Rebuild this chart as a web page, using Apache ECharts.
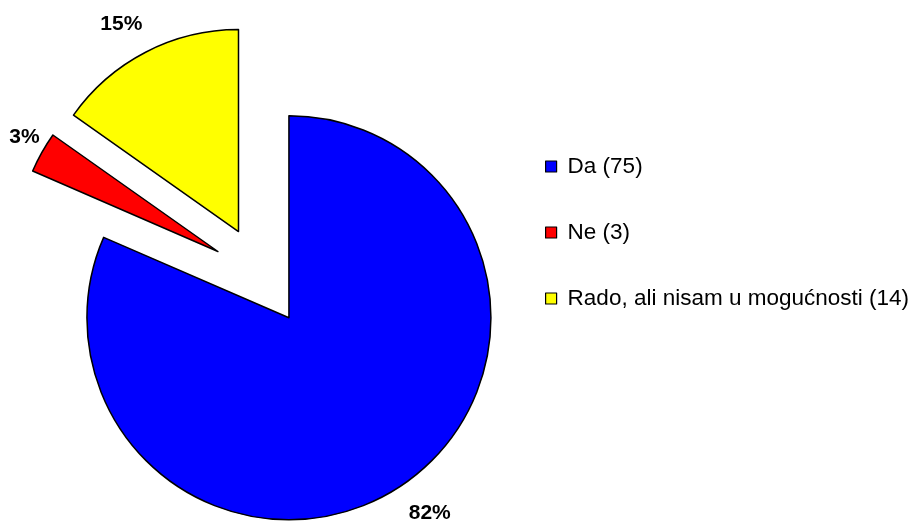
<!DOCTYPE html>
<html>
<head>
<meta charset="utf-8">
<script src="https://cdn.jsdelivr.net/npm/echarts@6/dist/echarts.min.js"></script>
<style>
html,body{margin:0;padding:0;background:#fff;}
#chart{width:916px;height:521px;}
</style>
</head>
<body>
<div id="chart"></div>
<script>
const categories = ['Da (75)', 'Ne (3)', 'Rado, ali nisam u mogućnosti (14)'];
const values = [75, 3, 14];
const colors = ['#0000FF', '#FF0000', '#FFFF00'];

const chart = echarts.init(document.getElementById('chart'), null, {renderer: 'canvas'});
const FONT = '"Liberation Sans", Arial, sans-serif';

// small per-label horizontal nudges via asymmetric padding (Excel places labels slightly off the mid-angle)
const labelPadding = {0: [0, 0, 0, 25], 1: [0, 0, 0, 21], 2: [0, 19, 0, 0]};

const pieData = categories.map((n, i) => ({
  name: n, value: values[i], selected: true,
  itemStyle: {color: colors[i]}
}));
const labelData = categories.map((n, i) => ({
  name: n, value: values[i], selected: true,
  label: {padding: labelPadding[i]}
}));

const common = {
  type: 'pie',
  center: [261.5, 276],
  startAngle: 90,
  clockwise: true,
  selectedMode: 'multiple',
  selectedOffset: 50,
  avoidLabelOverlap: false,
  percentPrecision: 0,
  animation: false,
  silent: true,
  emphasis: {disabled: true},
  select: {disabled: false}
};

chart.setOption({
  backgroundColor: '#ffffff',
  animation: false,
  legend: {
    orient: 'vertical',
    left: 540,
    top: 150,
    padding: 5,
    itemWidth: 11,
    itemHeight: 11,
    itemGap: 43,
    icon: 'rect',
    selectedMode: false,
    data: categories,
    itemStyle: {borderColor: '#000', borderWidth: 1.2},
    textStyle: {fontFamily: FONT, fontSize: 22.5, color: '#000', lineHeight: 22, padding: [0, 0, 0, 6]}
  },
  series: [
    Object.assign({}, common, {
      name: 'main',
      radius: [0, 202],
      itemStyle: {borderColor: '#000', borderWidth: 1.5},
      label: {show: false},
      labelLine: {show: false},
      data: pieData
    }),
    Object.assign({}, common, {
      name: 'labels',
      radius: [221, 241],
      itemStyle: {color: 'rgba(0,0,0,0)', borderWidth: 0},
      label: {
        show: true, position: 'inside', rotate: 0,
        formatter: '{d}%',
        fontFamily: FONT, fontSize: 21, fontWeight: 'bold', color: '#000'
      },
      labelLine: {show: false},
      data: labelData
    })
  ]
});
</script>
</body>
</html>
